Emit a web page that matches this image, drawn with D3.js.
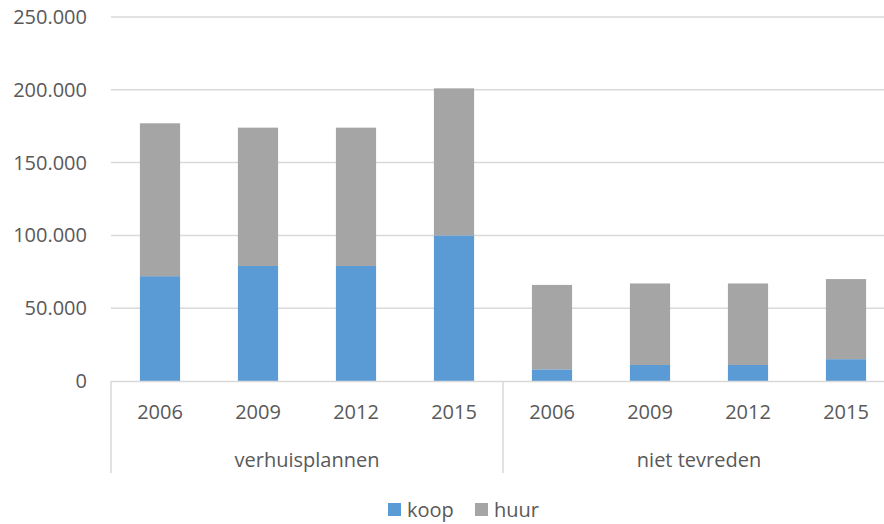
<!DOCTYPE html>
<html>
<head>
<meta charset="utf-8">
<script src="https://cdn.jsdelivr.net/npm/d3@7"></script>
<style>
  html, body { margin: 0; padding: 0; background: #fff; }
  svg { display: block; font-family: "Open Sans", sans-serif; }
</style>
</head>
<body>
<svg id="chart" width="884" height="524"></svg>
<script>
// Aantal huishoudens naar groep, jaar en eigendomsvorm
const groups = ["verhuisplannen", "niet tevreden"];
const years = ["2006", "2009", "2012", "2015"];
const koop = [72000, 79000, 79000, 100000, 8000, 11000, 11000, 15000];
const huur = [105000, 95000, 95000, 101000, 58000, 56000, 56000, 55000];
const seriesNames = ["koop", "huur"];
const seriesColors = ["#5b9bd5", "#a5a5a5"];
const yTicks = [0, 50000, 100000, 150000, 200000, 250000];

const rows = [];
groups.forEach((g, gi) => years.forEach((yr, yi) => {
  const i = gi * years.length + yi;
  rows.push({ key: g + "|" + yr, group: g, year: yr, koop: koop[i], huur: huur[i] });
}));

const svg = d3.select("#chart");
const plotLeft = 111, plotRight = 895, plotTop = 17, plotBottom = 381;
const textColor = "#595959";
const gridColor = "#d9d9d9";

const x = d3.scaleBand().domain(rows.map(d => d.key))
  .range([plotLeft, plotRight]).paddingInner(0.59).paddingOuter(0.295);
const y = d3.scaleLinear().domain([0, 250000]).range([plotBottom, plotTop]);

const fmt = v => v === 0 ? "0" : d3.format(",")(v).replace(/,/g, ".");

// gridlines
svg.append("g").selectAll("line").data(yTicks.filter(t => t > 0)).join("line")
  .attr("x1", plotLeft).attr("x2", plotRight)
  .attr("y1", d => y(d)).attr("y2", d => y(d))
  .attr("stroke", gridColor).attr("stroke-width", 1.5);

// y labels
svg.append("g").selectAll("text").data(yTicks).join("text")
  .attr("x", 87).attr("y", d => y(d))
  .attr("dy", "0.35em").attr("text-anchor", "end")
  .attr("font-size", 20).attr("fill", textColor)
  .text(fmt);

// stacked bars
const stack = d3.stack().keys(seriesNames)(rows);
svg.append("g").selectAll("g").data(stack).join("g")
  .attr("fill", (d, i) => seriesColors[i])
  .selectAll("rect").data(d => d).join("rect")
  .attr("x", d => x(d.data.key))
  .attr("width", x.bandwidth())
  .attr("y", d => y(d[1]))
  .attr("height", d => y(d[0]) - y(d[1]));

// category axis
const axisG = svg.append("g");
axisG.append("line").attr("x1", plotLeft).attr("x2", plotRight)
  .attr("y1", plotBottom + 0.5).attr("y2", plotBottom + 0.5)
  .attr("stroke", gridColor).attr("stroke-width", 1.5);

const sepX = [plotLeft, (plotLeft + plotRight) / 2, plotRight];
axisG.selectAll("line.sep").data(sepX).join("line").attr("class", "sep")
  .attr("x1", d => d).attr("x2", d => d)
  .attr("y1", plotBottom).attr("y2", 473)
  .attr("stroke", gridColor).attr("stroke-width", 1.5);

axisG.selectAll("text.year").data(rows).join("text").attr("class", "year")
  .attr("x", d => x(d.key) + x.bandwidth() / 2).attr("y", 412)
  .attr("dy", "0.35em").attr("text-anchor", "middle")
  .attr("font-size", 20).attr("fill", textColor)
  .text(d => d.year);

axisG.selectAll("text.group").data(groups).join("text").attr("class", "group")
  .attr("x", (d, i) => (sepX[i] + sepX[i + 1]) / 2).attr("y", 460)
  .attr("dy", "0.35em").attr("text-anchor", "middle")
  .attr("font-size", 20).attr("fill", textColor)
  .text(d => d);

// legend
const legend = svg.append("g");
const legendX = [388, 475];
seriesNames.forEach((s, i) => {
  legend.append("rect").attr("x", legendX[i]).attr("y", 503)
    .attr("width", 13).attr("height", 13).attr("fill", seriesColors[i]);
  legend.append("text").attr("x", legendX[i] + 19).attr("y", 510)
    .attr("dy", "0.35em").attr("font-size", 20).attr("fill", textColor)
    .text(s);
});
</script>
</body>
</html>
